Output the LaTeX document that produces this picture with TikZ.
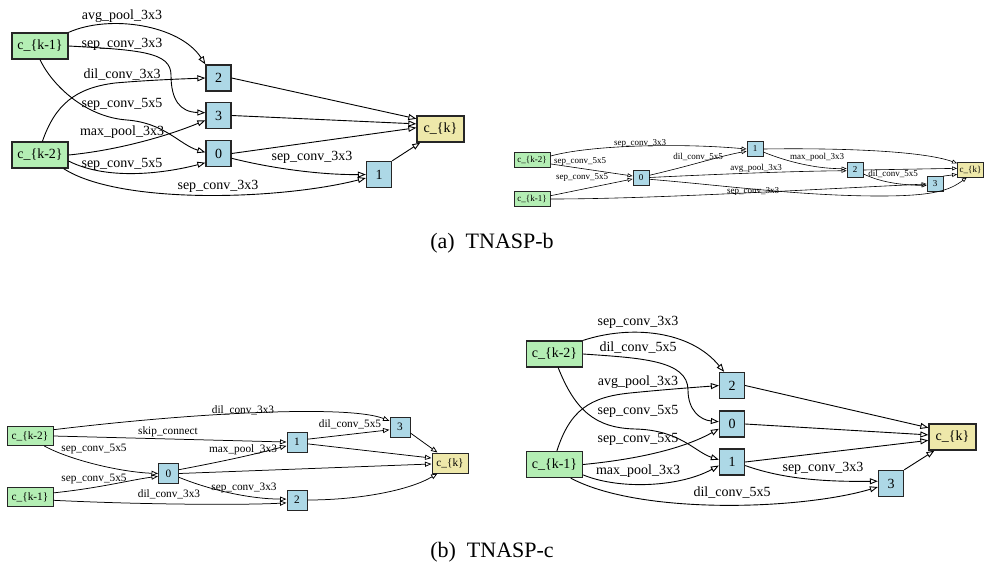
\documentclass[tikz,border=0pt]{standalone}
\usepackage{fontspec}
\setmainfont{Liberation Serif}
\usetikzlibrary{arrows.meta}
\definecolor{ingreen}{HTML}{B4EEB4}
\definecolor{opblue}{HTML}{ADD8E6}
\definecolor{outyel}{HTML}{EEE8AA}
\tikzset{
  fA/.style={font=\fontsize{14}{14}\selectfont},
  fM/.style={font=\fontsize{11.3}{11.3}\selectfont},
  fS/.style={font=\fontsize{9}{9}\selectfont},
  nodeA/.style={fA, draw=black!85, line width=1.3pt, inner sep=0pt, minimum height=26pt},
  inA/.style={nodeA, fill=ingreen, minimum width=56pt},
  opA/.style={nodeA, fill=opblue, minimum width=25pt},
  outA/.style={nodeA, fill=outyel, minimum width=47pt},
  nodeM/.style={fM, draw=black!85, line width=1pt, inner sep=0pt, minimum height=19pt},
  inM/.style={nodeM, fill=ingreen, minimum width=46pt},
  opM/.style={nodeM, fill=opblue, minimum width=20pt, minimum height=20pt},
  outM/.style={nodeM, fill=outyel, minimum width=36pt, minimum height=20pt},
  nodeS/.style={fS, draw=black!85, line width=0.85pt, inner sep=0pt, minimum height=14.5pt},
  inS/.style={nodeS, fill=ingreen, minimum width=36pt},
  opS/.style={nodeS, fill=opblue, minimum width=16pt, minimum height=15pt},
  outS/.style={nodeS, fill=outyel, minimum width=26pt, minimum height=15pt},
  lblA/.style={fA, inner sep=0pt},
  lblM/.style={fM, inner sep=0pt},
  lblS/.style={fS, inner sep=0pt},
  edA/.style={draw=black, line width=0.9pt, -{Triangle[open, length=8pt, width=6pt]}},
  edM/.style={draw=black, line width=0.75pt, -{Triangle[open, length=6.5pt, width=5pt]}},
  edS/.style={draw=black, line width=0.6pt, -{Triangle[open, length=5pt, width=4pt]}},
  captext/.style={font=\fontsize{22}{22}\selectfont, inner sep=0pt}
}
\begin{document}
\begin{tikzpicture}[x=1pt,y=-1pt]
\fill[white] (0,0) rectangle (984,565);
\useasboundingbox (0,0) rectangle (984,565);

% ---------- (a) left ----------
\node[inA] (a1) at (40,46) {c\_\{k-1\}};
\node[inA] (a2) at (40,155) {c\_\{k-2\}};
\node[opA] (an2) at (218.5,78) {2};
\node[opA] (an3) at (218.5,115.5) {3};
\node[opA] (an0) at (218.5,153.5) {0};
\node[opA] (an1) at (379,174.5) {1};
\node[outA] (ak) at (440.5,129) {c\_\{k\}};

\draw[edA] (a1.north east) .. controls (110,14) and (180,25) .. (an2.north west);
\draw[edA] (a1.east) .. controls (140,50) and (171,52) .. (171,75) .. controls (171,100) and (180,112) .. (an3.168);
\draw[edA] (a1.south) .. controls (52,85) and (85,117) .. (127,120) .. controls (165,123) and (180,145) .. (an0.175);
\draw[edA] (a2.80) .. controls (55,105) and (75,88) .. (115,83) .. controls (150,80) and (180,79) .. (an2.west);
\draw[edA] (a2.east) .. controls (120,150) and (170,135) .. (an3.200);
\draw[edA] (a2.-12) .. controls (110,182) and (170,172) .. (an0.215);
\draw[edA] (a2.-30) .. controls (120,205) and (280,200) .. (an1.195);
\draw[edA] (an0.-20) .. controls (270,168) and (320,175) .. (an1.west);
\draw[edA] (an0.east) -- (ak.177);
\draw[edA] (an2.east) -- (ak.157);
\draw[edA] (an3.east) -- (ak.168);
\draw[edA] (an1.north east) -- (ak.-146);

\node[lblA] (la1) at (122,16) {avg\_pool\_3x3};
\node[lblA] (la2) at (122,44) {sep\_conv\_3x3};
\node[lblA] (la3) at (122,75) {dil\_conv\_3x3};
\node[lblA] (la4) at (122,104) {sep\_conv\_5x5};
\node[lblA] (la5) at (122,132) {max\_pool\_3x3};
\node[lblA] (la6) at (122,164) {sep\_conv\_5x5};
\node[lblA] (la7) at (312,157) {sep\_conv\_3x3};
\node[lblA] (la8) at (218,186) {sep\_conv\_3x3};

% ---------- (a) right ----------
\node[inS] (b2) at (532,160) {c\_\{k-2\}};
\node[inS] (b1) at (532,199) {c\_\{k-1\}};
\node[opS] (bn0) at (641,177.5) {0};
\node[opS] (bn1) at (755,149) {1};
\node[opS] (bn2) at (855,170) {2};
\node[opS] (bn3) at (935,184) {3};
\node[outS] (bk) at (970.5,169.5) {c\_\{k\}};

\draw[edS] (b2.12) .. controls (590,145) and (680,143) .. (bn1.west);
\draw[edS] (b2.-12) -- (bn0.170);
\draw[edS] (b1.10) -- (bn0.190);
\draw[edS] (bn0.15) .. controls (690,166) and (720,156) .. (bn1.195);
\draw[edS] (bn0.east) .. controls (720,174) and (800,171) .. (bn2.185);
\draw[edS] (bn0.-12) .. controls (720,185) and (800,196) .. (880,196) .. controls (935,196) and (950,190) .. (bk.-115);
\draw[edS] (b1.east) .. controls (650,199) and (800,190) .. (bn3.west);
\draw[edS] (bn1.-20) .. controls (790,163) and (820,169) .. (bn2.170);
\draw[edS] (bn1.east) .. controls (830,148) and (920,150) .. (bk.155);
\draw[edS] (bn2.east) -- (bk.175);
\draw[edS] (bn2.-25) .. controls (880,182) and (900,185) .. (bn3.190);
\draw[edS] (bn3.north east) -- (bk.-160);

\node[lblS] (lb1) at (640,143) {sep\_conv\_3x3};
\node[lblS] (lb2) at (580,162) {sep\_conv\_5x5};
\node[lblS] (lb3) at (582,178) {sep\_conv\_5x5};
\node[lblS] (lb4) at (698,157) {dil\_conv\_5x5};
\node[lblS] (lb5) at (756,168) {avg\_pool\_3x3};
\node[lblS] (lb6) at (817,157) {max\_pool\_3x3};
\node[lblS] (lb7) at (893,174) {dil\_conv\_5x5};
\node[lblS] (lb8) at (753,191) {sep\_conv\_3x3};

% ---------- (b) left ----------
\node[inM] (c2) at (30,436) {c\_\{k-2\}};
\node[inM] (c1) at (30,497) {c\_\{k-1\}};
\node[opM] (cn0) at (168.5,473.5) {0};
\node[opM] (cn1) at (297,442) {1};
\node[opM] (cn3) at (400,427) {3};
\node[opM] (cn2) at (297,500) {2};
\node[outM] (ck) at (450,463) {c\_\{k\}};

\draw[edM] (c2.15) .. controls (200,412) and (350,405) .. (cn3.150);
\draw[edM] (c2.east) -- (cn1.west);
\draw[edM] (c2.-35) .. controls (70,460) and (120,472) .. (cn0.west);
\draw[edM] (c1.10) .. controls (100,488) and (130,480) .. (cn0.195);
\draw[edM] (c1.-8) .. controls (150,505) and (250,505) .. (cn2.195);
\draw[edM] (cn0.20) .. controls (230,460) and (260,453) .. (cn1.200);
\draw[edM] (cn0.east) -- (ck.183);
\draw[edM] (cn0.-20) .. controls (210,490) and (250,499) .. (cn2.175);
\draw[edM] (cn1.15) -- (cn3.195);
\draw[edM] (cn1.-10) -- (ck.165);
\draw[edM] (cn3.-30) -- (ck.140);
\draw[edM] (cn2.east) .. controls (360,500) and (410,490) .. (ck.-140);

\node[lblM] (lc1) at (243,410) {dil\_conv\_3x3};
\node[lblM] (lc2) at (168,432) {skip\_connect};
\node[lblM] (lc3) at (350,424) {dil\_conv\_5x5};
\node[lblM] (lc4) at (94,449) {sep\_conv\_5x5};
\node[lblM] (lc5) at (243,450) {max\_pool\_3x3};
\node[lblM] (lc6) at (94,479) {sep\_conv\_5x5};
\node[lblM] (lc7) at (169,494) {dil\_conv\_3x3};
\node[lblM] (lc8) at (244,488) {sep\_conv\_3x3};

% ---------- (b) right ----------
\node[inA] (d2) at (554.5,354) {c\_\{k-2\}};
\node[inA] (d1) at (554.5,464.5) {c\_\{k-1\}};
\node[opA] (dn2) at (732,385.5) {2};
\node[opA] (dn0) at (732,424) {0};
\node[opA] (dn1) at (732,462) {1};
\node[opA] (dn3) at (891,483.5) {3};
\node[outA] (dk) at (952.5,437) {c\_\{k\}};

\draw[edA] (d2.north east) .. controls (630,325) and (690,330) .. (dn2.120);
\draw[edA] (d2.east) .. controls (640,358) and (688,360) .. (688,390) .. controls (688,410) and (700,420) .. (dn0.170);
\draw[edA] (d2.-75) .. controls (575,410) and (595,428) .. (635,429) .. controls (680,430) and (695,452) .. (dn1.170);
\draw[edA] (d1.80) .. controls (570,410) and (590,397) .. (630,393) .. controls (670,389) and (700,387) .. (dn2.west);
\draw[edA] (d1.east) .. controls (650,458) and (690,445) .. (dn0.200);
\draw[edA] (d1.-20) .. controls (620,490) and (680,487) .. (dn1.195);
\draw[edA] (d1.-40) .. controls (640,515) and (800,510) .. (dn3.195);
\draw[edA] (dn1.-15) .. controls (780,478) and (820,482) .. (dn3.170);
\draw[edA] (dn2.east) -- (dk.159);
\draw[edA] (dn0.east) -- (dk.175);
\draw[edA] (dn1.east) -- (dk.-172);
\draw[edA] (dn3.north east) -- (dk.-143);

\node[lblA] (ld1) at (638,322) {sep\_conv\_3x3};
\node[lblA] (ld2) at (638,348) {dil\_conv\_5x5};
\node[lblA] (ld3) at (638,382) {avg\_pool\_3x3};
\node[lblA] (ld4) at (638,411) {sep\_conv\_5x5};
\node[lblA] (ld5) at (638,439) {sep\_conv\_5x5};
\node[lblA] (ld6) at (638,471) {max\_pool\_3x3};
\node[lblA] (ld7) at (732,493) {dil\_conv\_5x5};
\node[lblA] (ld8) at (823,468) {sep\_conv\_3x3};

% ---------- captions ----------
\node[captext] (capa) at (492,243) {(a)\hspace{0.5em}TNASP-b};
\node[captext] (capb) at (492,552) {(b)\hspace{0.5em}TNASP-c};
\end{tikzpicture}
\end{document}
